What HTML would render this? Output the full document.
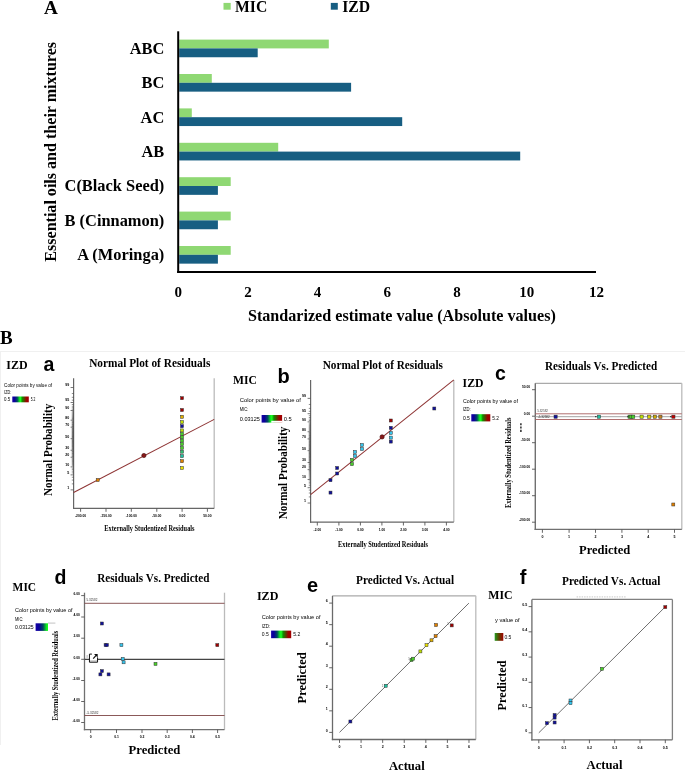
<!DOCTYPE html>
<html><head><meta charset="utf-8"><style>
html,body{margin:0;padding:0;background:#fff;}
body{width:685px;height:772px;overflow:hidden;font-family:"Liberation Serif",serif;}
svg{display:block;will-change:transform;}
</style></head><body>
<svg width="685" height="772" viewBox="0 0 685 772">
<text x="44.00" y="13.80" font-family="Liberation Serif" font-size="19.2" font-weight="bold" fill="#000" >A</text>
<rect x="223.50" y="2.90" width="7.20" height="6.80" fill="#8fd873" />
<text x="235.00" y="11.70" font-family="Liberation Serif" font-size="15.8" font-weight="bold" fill="#000" textLength="32.20" lengthAdjust="spacingAndGlyphs" >MIC</text>
<rect x="330.80" y="2.90" width="7.00" height="6.80" fill="#175e82" />
<text x="342.20" y="11.70" font-family="Liberation Serif" font-size="15.8" font-weight="bold" fill="#000" textLength="28.00" lengthAdjust="spacingAndGlyphs" >IZD</text>
<rect x="179.20" y="39.60" width="149.60" height="8.80" fill="#8fd873" />
<rect x="179.20" y="48.40" width="78.50" height="8.85" fill="#175e82" />
<text x="164.30" y="53.80" font-family="Liberation Serif" font-size="16.4" font-weight="bold" fill="#000" text-anchor="end" >ABC</text>
<rect x="179.20" y="74.00" width="32.60" height="8.80" fill="#8fd873" />
<rect x="179.20" y="82.80" width="171.90" height="8.85" fill="#175e82" />
<text x="164.30" y="88.20" font-family="Liberation Serif" font-size="16.4" font-weight="bold" fill="#000" text-anchor="end" >BC</text>
<rect x="179.20" y="108.40" width="12.60" height="8.80" fill="#8fd873" />
<rect x="179.20" y="117.20" width="223.00" height="8.85" fill="#175e82" />
<text x="164.30" y="122.60" font-family="Liberation Serif" font-size="16.4" font-weight="bold" fill="#000" text-anchor="end" >AC</text>
<rect x="179.20" y="142.80" width="99.00" height="8.80" fill="#8fd873" />
<rect x="179.20" y="151.60" width="341.00" height="8.85" fill="#175e82" />
<text x="164.30" y="157.00" font-family="Liberation Serif" font-size="16.4" font-weight="bold" fill="#000" text-anchor="end" >AB</text>
<rect x="179.20" y="177.20" width="51.50" height="8.80" fill="#8fd873" />
<rect x="179.20" y="186.00" width="38.70" height="8.85" fill="#175e82" />
<text x="164.30" y="191.40" font-family="Liberation Serif" font-size="16.4" font-weight="bold" fill="#000" text-anchor="end" >C(Black Seed)</text>
<rect x="179.20" y="211.60" width="51.50" height="8.80" fill="#8fd873" />
<rect x="179.20" y="220.40" width="38.70" height="8.85" fill="#175e82" />
<text x="164.30" y="225.80" font-family="Liberation Serif" font-size="16.4" font-weight="bold" fill="#000" text-anchor="end" >B (Cinnamon)</text>
<rect x="179.20" y="246.00" width="51.50" height="8.80" fill="#8fd873" />
<rect x="179.20" y="254.80" width="38.70" height="8.85" fill="#175e82" />
<text x="164.30" y="260.20" font-family="Liberation Serif" font-size="16.4" font-weight="bold" fill="#000" text-anchor="end" >A (Moringa)</text>
<line x1="178.20" y1="31.30" x2="178.20" y2="273.00" stroke="#000" stroke-width="2" />
<line x1="177.20" y1="272.00" x2="596.00" y2="272.00" stroke="#000" stroke-width="2" />
<text x="178.20" y="296.60" font-family="Liberation Serif" font-size="15" font-weight="bold" fill="#000" text-anchor="middle" >0</text>
<text x="247.90" y="296.60" font-family="Liberation Serif" font-size="15" font-weight="bold" fill="#000" text-anchor="middle" >2</text>
<text x="317.60" y="296.60" font-family="Liberation Serif" font-size="15" font-weight="bold" fill="#000" text-anchor="middle" >4</text>
<text x="387.30" y="296.60" font-family="Liberation Serif" font-size="15" font-weight="bold" fill="#000" text-anchor="middle" >6</text>
<text x="457.00" y="296.60" font-family="Liberation Serif" font-size="15" font-weight="bold" fill="#000" text-anchor="middle" >8</text>
<text x="526.70" y="296.60" font-family="Liberation Serif" font-size="15" font-weight="bold" fill="#000" text-anchor="middle" >10</text>
<text x="596.40" y="296.60" font-family="Liberation Serif" font-size="15" font-weight="bold" fill="#000" text-anchor="middle" >12</text>
<text x="248.00" y="321.20" font-family="Liberation Serif" font-size="16" font-weight="bold" fill="#000" textLength="307.80" lengthAdjust="spacingAndGlyphs" >Standarized  estimate value (Absolute values)</text>
<text x="56.20" y="261.70" font-family="Liberation Serif" font-size="16" font-weight="bold" fill="#000" textLength="219.80" lengthAdjust="spacingAndGlyphs" transform="rotate(-90 56.20 261.70)" >Essential oils and their mixtures</text>
<text x="0.00" y="343.60" font-family="Liberation Serif" font-size="19" font-weight="bold" fill="#000" >B</text>
<line x1="0.00" y1="351.50" x2="685.00" y2="351.50" stroke="#f0f0f0" stroke-width="1" />
<line x1="0.50" y1="351.50" x2="0.50" y2="745.00" stroke="#f0f0f0" stroke-width="1" />
<text x="6.30" y="368.90" font-family="Liberation Serif" font-size="12.5" font-weight="bold" fill="#000" textLength="21.30" lengthAdjust="spacingAndGlyphs" >IZD</text>
<text x="43.60" y="370.90" font-family="Liberation Sans" font-size="19.5" font-weight="bold" fill="#000" >a</text>
<text x="89.20" y="367.10" font-family="Liberation Serif" font-size="12" font-weight="bold" fill="#000" textLength="121.10" lengthAdjust="spacingAndGlyphs" >Normal Plot of Residuals</text>
<text x="4.10" y="386.60" font-family="Liberation Sans" font-size="4.6" font-weight="normal" fill="#000" textLength="48.00" lengthAdjust="spacingAndGlyphs" >Color points by value of</text>
<text x="4.10" y="393.90" font-family="Liberation Sans" font-size="4.6" font-weight="normal" fill="#000" textLength="7.10" lengthAdjust="spacingAndGlyphs" >IZD:</text>
<text x="4.10" y="401.20" font-family="Liberation Sans" font-size="4.6" font-weight="normal" fill="#000" textLength="6.10" lengthAdjust="spacingAndGlyphs" >0.5</text>
<defs><linearGradient id="g46" x1="0" x2="1" y1="0" y2="0"><stop offset="0" stop-color="#1400a8"/><stop offset="0.14" stop-color="#0a0098"/><stop offset="0.3" stop-color="#004a60"/><stop offset="0.44" stop-color="#10e820"/><stop offset="0.5" stop-color="#18ff20"/><stop offset="0.6" stop-color="#108c00"/><stop offset="0.74" stop-color="#5a4000"/><stop offset="0.86" stop-color="#a00000"/><stop offset="1" stop-color="#a00000"/></linearGradient></defs>
<rect x="12.30" y="396.50" width="16.50" height="5.80" fill="url(#g46)" />
<text x="30.70" y="401.20" font-family="Liberation Sans" font-size="4.6" font-weight="normal" fill="#000" textLength="4.60" lengthAdjust="spacingAndGlyphs" >5.2</text>
<line x1="214.20" y1="378.20" x2="214.20" y2="508.40" stroke="#bbb" stroke-width="1.3" />
<line x1="73.60" y1="378.20" x2="73.60" y2="509.00" stroke="#666" stroke-width="1.2" />
<line x1="73.00" y1="508.40" x2="214.20" y2="508.40" stroke="#666" stroke-width="1.2" />
<line x1="70.60" y1="489.88" x2="73.60" y2="489.88" stroke="#555" stroke-width="0.8" />
<text x="69.30" y="488.68" font-family="Liberation Sans" font-size="3.6" font-weight="bold" fill="#000" text-anchor="end" >1</text>
<line x1="71.80" y1="483.88" x2="73.60" y2="483.88" stroke="#444" stroke-width="0.6" />
<line x1="71.80" y1="480.08" x2="73.60" y2="480.08" stroke="#444" stroke-width="0.6" />
<line x1="71.80" y1="477.22" x2="73.60" y2="477.22" stroke="#444" stroke-width="0.6" />
<line x1="70.60" y1="474.89" x2="73.60" y2="474.89" stroke="#555" stroke-width="0.8" />
<text x="69.30" y="473.69" font-family="Liberation Sans" font-size="3.6" font-weight="bold" fill="#000" text-anchor="end" >5</text>
<line x1="71.80" y1="472.91" x2="73.60" y2="472.91" stroke="#444" stroke-width="0.6" />
<line x1="71.80" y1="471.17" x2="73.60" y2="471.17" stroke="#444" stroke-width="0.6" />
<line x1="71.80" y1="469.61" x2="73.60" y2="469.61" stroke="#444" stroke-width="0.6" />
<line x1="71.80" y1="468.20" x2="73.60" y2="468.20" stroke="#444" stroke-width="0.6" />
<line x1="70.60" y1="466.89" x2="73.60" y2="466.89" stroke="#555" stroke-width="0.8" />
<text x="69.30" y="465.69" font-family="Liberation Sans" font-size="3.6" font-weight="bold" fill="#000" text-anchor="end" >10</text>
<line x1="71.80" y1="465.68" x2="73.60" y2="465.68" stroke="#444" stroke-width="0.6" />
<line x1="71.80" y1="464.55" x2="73.60" y2="464.55" stroke="#444" stroke-width="0.6" />
<line x1="71.80" y1="463.48" x2="73.60" y2="463.48" stroke="#444" stroke-width="0.6" />
<line x1="71.80" y1="462.47" x2="73.60" y2="462.47" stroke="#444" stroke-width="0.6" />
<line x1="71.80" y1="461.50" x2="73.60" y2="461.50" stroke="#444" stroke-width="0.6" />
<line x1="71.80" y1="460.58" x2="73.60" y2="460.58" stroke="#444" stroke-width="0.6" />
<line x1="71.80" y1="459.69" x2="73.60" y2="459.69" stroke="#444" stroke-width="0.6" />
<line x1="71.80" y1="458.84" x2="73.60" y2="458.84" stroke="#444" stroke-width="0.6" />
<line x1="71.80" y1="458.01" x2="73.60" y2="458.01" stroke="#444" stroke-width="0.6" />
<line x1="70.60" y1="457.22" x2="73.60" y2="457.22" stroke="#555" stroke-width="0.8" />
<text x="69.30" y="456.02" font-family="Liberation Sans" font-size="3.6" font-weight="bold" fill="#000" text-anchor="end" >20</text>
<line x1="71.80" y1="456.44" x2="73.60" y2="456.44" stroke="#444" stroke-width="0.6" />
<line x1="71.80" y1="455.69" x2="73.60" y2="455.69" stroke="#444" stroke-width="0.6" />
<line x1="71.80" y1="454.95" x2="73.60" y2="454.95" stroke="#444" stroke-width="0.6" />
<line x1="71.80" y1="454.24" x2="73.60" y2="454.24" stroke="#444" stroke-width="0.6" />
<line x1="71.80" y1="453.54" x2="73.60" y2="453.54" stroke="#444" stroke-width="0.6" />
<line x1="71.80" y1="452.85" x2="73.60" y2="452.85" stroke="#444" stroke-width="0.6" />
<line x1="71.80" y1="452.18" x2="73.60" y2="452.18" stroke="#444" stroke-width="0.6" />
<line x1="71.80" y1="451.52" x2="73.60" y2="451.52" stroke="#444" stroke-width="0.6" />
<line x1="71.80" y1="450.87" x2="73.60" y2="450.87" stroke="#444" stroke-width="0.6" />
<line x1="70.60" y1="450.24" x2="73.60" y2="450.24" stroke="#555" stroke-width="0.8" />
<text x="69.30" y="449.04" font-family="Liberation Sans" font-size="3.6" font-weight="bold" fill="#000" text-anchor="end" >30</text>
<line x1="71.80" y1="449.61" x2="73.60" y2="449.61" stroke="#444" stroke-width="0.6" />
<line x1="71.80" y1="448.99" x2="73.60" y2="448.99" stroke="#444" stroke-width="0.6" />
<line x1="71.80" y1="448.38" x2="73.60" y2="448.38" stroke="#444" stroke-width="0.6" />
<line x1="71.80" y1="447.77" x2="73.60" y2="447.77" stroke="#444" stroke-width="0.6" />
<line x1="71.80" y1="447.18" x2="73.60" y2="447.18" stroke="#444" stroke-width="0.6" />
<line x1="71.80" y1="446.59" x2="73.60" y2="446.59" stroke="#444" stroke-width="0.6" />
<line x1="71.80" y1="446.00" x2="73.60" y2="446.00" stroke="#444" stroke-width="0.6" />
<line x1="71.80" y1="445.42" x2="73.60" y2="445.42" stroke="#444" stroke-width="0.6" />
<line x1="71.80" y1="444.85" x2="73.60" y2="444.85" stroke="#444" stroke-width="0.6" />
<line x1="71.80" y1="444.27" x2="73.60" y2="444.27" stroke="#444" stroke-width="0.6" />
<line x1="71.80" y1="443.71" x2="73.60" y2="443.71" stroke="#444" stroke-width="0.6" />
<line x1="71.80" y1="443.14" x2="73.60" y2="443.14" stroke="#444" stroke-width="0.6" />
<line x1="71.80" y1="442.58" x2="73.60" y2="442.58" stroke="#444" stroke-width="0.6" />
<line x1="71.80" y1="442.02" x2="73.60" y2="442.02" stroke="#444" stroke-width="0.6" />
<line x1="71.80" y1="441.46" x2="73.60" y2="441.46" stroke="#444" stroke-width="0.6" />
<line x1="71.80" y1="440.91" x2="73.60" y2="440.91" stroke="#444" stroke-width="0.6" />
<line x1="71.80" y1="440.36" x2="73.60" y2="440.36" stroke="#444" stroke-width="0.6" />
<line x1="71.80" y1="439.80" x2="73.60" y2="439.80" stroke="#444" stroke-width="0.6" />
<line x1="71.80" y1="439.25" x2="73.60" y2="439.25" stroke="#444" stroke-width="0.6" />
<line x1="70.60" y1="438.70" x2="73.60" y2="438.70" stroke="#555" stroke-width="0.8" />
<text x="69.30" y="437.50" font-family="Liberation Sans" font-size="3.6" font-weight="bold" fill="#000" text-anchor="end" >50</text>
<line x1="71.80" y1="438.15" x2="73.60" y2="438.15" stroke="#444" stroke-width="0.6" />
<line x1="71.80" y1="437.60" x2="73.60" y2="437.60" stroke="#444" stroke-width="0.6" />
<line x1="71.80" y1="437.04" x2="73.60" y2="437.04" stroke="#444" stroke-width="0.6" />
<line x1="71.80" y1="436.49" x2="73.60" y2="436.49" stroke="#444" stroke-width="0.6" />
<line x1="71.80" y1="435.94" x2="73.60" y2="435.94" stroke="#444" stroke-width="0.6" />
<line x1="71.80" y1="435.38" x2="73.60" y2="435.38" stroke="#444" stroke-width="0.6" />
<line x1="71.80" y1="434.82" x2="73.60" y2="434.82" stroke="#444" stroke-width="0.6" />
<line x1="71.80" y1="434.26" x2="73.60" y2="434.26" stroke="#444" stroke-width="0.6" />
<line x1="71.80" y1="433.69" x2="73.60" y2="433.69" stroke="#444" stroke-width="0.6" />
<line x1="71.80" y1="433.13" x2="73.60" y2="433.13" stroke="#444" stroke-width="0.6" />
<line x1="71.80" y1="432.55" x2="73.60" y2="432.55" stroke="#444" stroke-width="0.6" />
<line x1="71.80" y1="431.98" x2="73.60" y2="431.98" stroke="#444" stroke-width="0.6" />
<line x1="71.80" y1="431.40" x2="73.60" y2="431.40" stroke="#444" stroke-width="0.6" />
<line x1="71.80" y1="430.81" x2="73.60" y2="430.81" stroke="#444" stroke-width="0.6" />
<line x1="71.80" y1="430.22" x2="73.60" y2="430.22" stroke="#444" stroke-width="0.6" />
<line x1="71.80" y1="429.63" x2="73.60" y2="429.63" stroke="#444" stroke-width="0.6" />
<line x1="71.80" y1="429.02" x2="73.60" y2="429.02" stroke="#444" stroke-width="0.6" />
<line x1="71.80" y1="428.41" x2="73.60" y2="428.41" stroke="#444" stroke-width="0.6" />
<line x1="71.80" y1="427.79" x2="73.60" y2="427.79" stroke="#444" stroke-width="0.6" />
<line x1="70.60" y1="427.16" x2="73.60" y2="427.16" stroke="#555" stroke-width="0.8" />
<text x="69.30" y="425.96" font-family="Liberation Sans" font-size="3.6" font-weight="bold" fill="#000" text-anchor="end" >70</text>
<line x1="71.80" y1="426.53" x2="73.60" y2="426.53" stroke="#444" stroke-width="0.6" />
<line x1="71.80" y1="425.88" x2="73.60" y2="425.88" stroke="#444" stroke-width="0.6" />
<line x1="71.80" y1="425.22" x2="73.60" y2="425.22" stroke="#444" stroke-width="0.6" />
<line x1="71.80" y1="424.55" x2="73.60" y2="424.55" stroke="#444" stroke-width="0.6" />
<line x1="71.80" y1="423.86" x2="73.60" y2="423.86" stroke="#444" stroke-width="0.6" />
<line x1="71.80" y1="423.16" x2="73.60" y2="423.16" stroke="#444" stroke-width="0.6" />
<line x1="71.80" y1="422.45" x2="73.60" y2="422.45" stroke="#444" stroke-width="0.6" />
<line x1="71.80" y1="421.71" x2="73.60" y2="421.71" stroke="#444" stroke-width="0.6" />
<line x1="71.80" y1="420.96" x2="73.60" y2="420.96" stroke="#444" stroke-width="0.6" />
<line x1="70.60" y1="420.18" x2="73.60" y2="420.18" stroke="#555" stroke-width="0.8" />
<text x="69.30" y="418.98" font-family="Liberation Sans" font-size="3.6" font-weight="bold" fill="#000" text-anchor="end" >80</text>
<line x1="71.80" y1="419.39" x2="73.60" y2="419.39" stroke="#444" stroke-width="0.6" />
<line x1="71.80" y1="418.56" x2="73.60" y2="418.56" stroke="#444" stroke-width="0.6" />
<line x1="71.80" y1="417.71" x2="73.60" y2="417.71" stroke="#444" stroke-width="0.6" />
<line x1="71.80" y1="416.82" x2="73.60" y2="416.82" stroke="#444" stroke-width="0.6" />
<line x1="71.80" y1="415.90" x2="73.60" y2="415.90" stroke="#444" stroke-width="0.6" />
<line x1="71.80" y1="414.93" x2="73.60" y2="414.93" stroke="#444" stroke-width="0.6" />
<line x1="71.80" y1="413.92" x2="73.60" y2="413.92" stroke="#444" stroke-width="0.6" />
<line x1="71.80" y1="412.85" x2="73.60" y2="412.85" stroke="#444" stroke-width="0.6" />
<line x1="71.80" y1="411.72" x2="73.60" y2="411.72" stroke="#444" stroke-width="0.6" />
<line x1="70.60" y1="410.51" x2="73.60" y2="410.51" stroke="#555" stroke-width="0.8" />
<text x="69.30" y="409.31" font-family="Liberation Sans" font-size="3.6" font-weight="bold" fill="#000" text-anchor="end" >90</text>
<line x1="71.80" y1="409.20" x2="73.60" y2="409.20" stroke="#444" stroke-width="0.6" />
<line x1="71.80" y1="407.79" x2="73.60" y2="407.79" stroke="#444" stroke-width="0.6" />
<line x1="71.80" y1="406.23" x2="73.60" y2="406.23" stroke="#444" stroke-width="0.6" />
<line x1="71.80" y1="404.49" x2="73.60" y2="404.49" stroke="#444" stroke-width="0.6" />
<line x1="70.60" y1="402.51" x2="73.60" y2="402.51" stroke="#555" stroke-width="0.8" />
<text x="69.30" y="401.31" font-family="Liberation Sans" font-size="3.6" font-weight="bold" fill="#000" text-anchor="end" >95</text>
<line x1="71.80" y1="400.18" x2="73.60" y2="400.18" stroke="#444" stroke-width="0.6" />
<line x1="71.80" y1="397.32" x2="73.60" y2="397.32" stroke="#444" stroke-width="0.6" />
<line x1="71.80" y1="393.52" x2="73.60" y2="393.52" stroke="#444" stroke-width="0.6" />
<line x1="70.60" y1="387.52" x2="73.60" y2="387.52" stroke="#555" stroke-width="0.8" />
<text x="69.30" y="386.32" font-family="Liberation Sans" font-size="3.6" font-weight="bold" fill="#000" text-anchor="end" >99</text>
<line x1="80.60" y1="508.40" x2="80.60" y2="511.80" stroke="#555" stroke-width="0.9" />
<text x="80.60" y="516.89" font-family="Liberation Sans" font-size="3.3" font-weight="bold" fill="#000" text-anchor="middle" >-200.00</text>
<line x1="106.00" y1="508.40" x2="106.00" y2="511.80" stroke="#555" stroke-width="0.9" />
<text x="106.00" y="516.89" font-family="Liberation Sans" font-size="3.3" font-weight="bold" fill="#000" text-anchor="middle" >-150.00</text>
<line x1="131.30" y1="508.40" x2="131.30" y2="511.80" stroke="#555" stroke-width="0.9" />
<text x="131.30" y="516.89" font-family="Liberation Sans" font-size="3.3" font-weight="bold" fill="#000" text-anchor="middle" >-100.00</text>
<line x1="156.80" y1="508.40" x2="156.80" y2="511.80" stroke="#555" stroke-width="0.9" />
<text x="156.80" y="516.89" font-family="Liberation Sans" font-size="3.3" font-weight="bold" fill="#000" text-anchor="middle" >-50.00</text>
<line x1="182.10" y1="508.40" x2="182.10" y2="511.80" stroke="#555" stroke-width="0.9" />
<text x="182.10" y="516.89" font-family="Liberation Sans" font-size="3.3" font-weight="bold" fill="#000" text-anchor="middle" >0.00</text>
<line x1="207.40" y1="508.40" x2="207.40" y2="511.80" stroke="#555" stroke-width="0.9" />
<text x="207.40" y="516.89" font-family="Liberation Sans" font-size="3.3" font-weight="bold" fill="#000" text-anchor="middle" >50.00</text>
<text x="51.50" y="496.00" font-family="Liberation Serif" font-size="12.6" font-weight="bold" fill="#000" textLength="92.20" lengthAdjust="spacingAndGlyphs" transform="rotate(-90 51.50 496.00)" >Normal Probability</text>
<text x="104.30" y="531.10" font-family="Liberation Serif" font-size="7.3" font-weight="bold" fill="#000" textLength="90.30" lengthAdjust="spacingAndGlyphs" >Externally Studentized Residuals</text>
<line x1="73.60" y1="492.50" x2="214.20" y2="419.40" stroke="#8e3434" stroke-width="1.05" />
<circle cx="143.9" cy="455.5" r="2.1" fill="#8a1818" stroke="#4a0d0d" stroke-width="0.7"/>
<rect x="96.20" y="478.50" width="3.00" height="3.00" fill="#e08000" stroke="#333" stroke-width="0.5"/>
<rect x="180.50" y="396.70" width="3.00" height="3.00" fill="#a00000" stroke="#333" stroke-width="0.5"/>
<rect x="180.50" y="408.50" width="3.00" height="3.00" fill="#a00000" stroke="#333" stroke-width="0.5"/>
<rect x="180.50" y="415.30" width="3.00" height="3.00" fill="#e0b000" stroke="#333" stroke-width="0.5"/>
<rect x="180.50" y="420.60" width="3.00" height="3.00" fill="#c0e000" stroke="#333" stroke-width="0.5"/>
<rect x="180.50" y="424.70" width="3.00" height="3.00" fill="#10109a" stroke="#333" stroke-width="0.5"/>
<rect x="180.50" y="428.90" width="3.00" height="3.00" fill="#c0e000" stroke="#333" stroke-width="0.5"/>
<rect x="180.50" y="432.40" width="3.00" height="3.00" fill="#48d028" stroke="#333" stroke-width="0.5"/>
<rect x="180.50" y="435.80" width="3.00" height="3.00" fill="#48d028" stroke="#333" stroke-width="0.5"/>
<rect x="180.50" y="439.10" width="3.00" height="3.00" fill="#48d028" stroke="#333" stroke-width="0.5"/>
<rect x="180.50" y="442.70" width="3.00" height="3.00" fill="#48d028" stroke="#333" stroke-width="0.5"/>
<rect x="180.50" y="446.40" width="3.00" height="3.00" fill="#48d028" stroke="#333" stroke-width="0.5"/>
<rect x="180.50" y="450.20" width="3.00" height="3.00" fill="#30c070" stroke="#333" stroke-width="0.5"/>
<rect x="180.50" y="454.60" width="3.00" height="3.00" fill="#20c0a0" stroke="#333" stroke-width="0.5"/>
<rect x="180.50" y="459.70" width="3.00" height="3.00" fill="#e08000" stroke="#333" stroke-width="0.5"/>
<rect x="180.50" y="466.50" width="3.00" height="3.00" fill="#e8e000" stroke="#333" stroke-width="0.5"/>
<text x="233.00" y="384.40" font-family="Liberation Serif" font-size="12.5" font-weight="bold" fill="#000" textLength="23.90" lengthAdjust="spacingAndGlyphs" >MIC</text>
<text x="277.60" y="382.80" font-family="Liberation Sans" font-size="20" font-weight="bold" fill="#000" >b</text>
<text x="322.70" y="368.60" font-family="Liberation Serif" font-size="12" font-weight="bold" fill="#000" textLength="120.30" lengthAdjust="spacingAndGlyphs" >Normal Plot of Residuals</text>
<text x="239.80" y="402.20" font-family="Liberation Sans" font-size="5.6" font-weight="normal" fill="#000" textLength="61.10" lengthAdjust="spacingAndGlyphs" >Color points by value of</text>
<text x="239.80" y="411.40" font-family="Liberation Sans" font-size="5.6" font-weight="normal" fill="#000" textLength="8.50" lengthAdjust="spacingAndGlyphs" >MIC:</text>
<text x="239.80" y="420.90" font-family="Liberation Sans" font-size="5.6" font-weight="normal" fill="#000" textLength="20.10" lengthAdjust="spacingAndGlyphs" >0.03125</text>
<defs><linearGradient id="g200" x1="0" x2="1" y1="0" y2="0"><stop offset="0" stop-color="#1400a8"/><stop offset="0.14" stop-color="#0a0098"/><stop offset="0.3" stop-color="#004a60"/><stop offset="0.44" stop-color="#10e820"/><stop offset="0.5" stop-color="#18ff20"/><stop offset="0.6" stop-color="#108c00"/><stop offset="0.74" stop-color="#5a4000"/><stop offset="0.86" stop-color="#a00000"/><stop offset="1" stop-color="#a00000"/></linearGradient></defs>
<rect x="261.60" y="415.00" width="20.50" height="7.60" fill="url(#g200)" />
<rect x="271.30" y="420.80" width="11.00" height="1.90" fill="#fff" />
<text x="283.80" y="420.90" font-family="Liberation Sans" font-size="5.6" font-weight="normal" fill="#000" textLength="8.00" lengthAdjust="spacingAndGlyphs" >0.5</text>
<line x1="453.80" y1="379.90" x2="453.80" y2="522.10" stroke="#bbb" stroke-width="1.3" />
<line x1="310.60" y1="379.90" x2="310.60" y2="522.70" stroke="#666" stroke-width="1.2" />
<line x1="310.00" y1="522.10" x2="453.80" y2="522.10" stroke="#666" stroke-width="1.2" />
<line x1="307.60" y1="503.04" x2="310.60" y2="503.04" stroke="#555" stroke-width="0.8" />
<text x="306.00" y="501.84" font-family="Liberation Sans" font-size="3.6" font-weight="bold" fill="#000" text-anchor="end" >1</text>
<line x1="308.80" y1="496.91" x2="310.60" y2="496.91" stroke="#444" stroke-width="0.6" />
<line x1="308.80" y1="493.02" x2="310.60" y2="493.02" stroke="#444" stroke-width="0.6" />
<line x1="308.80" y1="490.09" x2="310.60" y2="490.09" stroke="#444" stroke-width="0.6" />
<line x1="307.60" y1="487.71" x2="310.60" y2="487.71" stroke="#555" stroke-width="0.8" />
<text x="306.00" y="486.51" font-family="Liberation Sans" font-size="3.6" font-weight="bold" fill="#000" text-anchor="end" >5</text>
<line x1="308.80" y1="485.68" x2="310.60" y2="485.68" stroke="#444" stroke-width="0.6" />
<line x1="308.80" y1="483.91" x2="310.60" y2="483.91" stroke="#444" stroke-width="0.6" />
<line x1="308.80" y1="482.31" x2="310.60" y2="482.31" stroke="#444" stroke-width="0.6" />
<line x1="308.80" y1="480.87" x2="310.60" y2="480.87" stroke="#444" stroke-width="0.6" />
<line x1="307.60" y1="479.53" x2="310.60" y2="479.53" stroke="#555" stroke-width="0.8" />
<text x="306.00" y="478.33" font-family="Liberation Sans" font-size="3.6" font-weight="bold" fill="#000" text-anchor="end" >10</text>
<line x1="308.80" y1="478.30" x2="310.60" y2="478.30" stroke="#444" stroke-width="0.6" />
<line x1="308.80" y1="477.14" x2="310.60" y2="477.14" stroke="#444" stroke-width="0.6" />
<line x1="308.80" y1="476.04" x2="310.60" y2="476.04" stroke="#444" stroke-width="0.6" />
<line x1="308.80" y1="475.01" x2="310.60" y2="475.01" stroke="#444" stroke-width="0.6" />
<line x1="308.80" y1="474.02" x2="310.60" y2="474.02" stroke="#444" stroke-width="0.6" />
<line x1="308.80" y1="473.08" x2="310.60" y2="473.08" stroke="#444" stroke-width="0.6" />
<line x1="308.80" y1="472.17" x2="310.60" y2="472.17" stroke="#444" stroke-width="0.6" />
<line x1="308.80" y1="471.30" x2="310.60" y2="471.30" stroke="#444" stroke-width="0.6" />
<line x1="308.80" y1="470.45" x2="310.60" y2="470.45" stroke="#444" stroke-width="0.6" />
<line x1="307.60" y1="469.64" x2="310.60" y2="469.64" stroke="#555" stroke-width="0.8" />
<text x="306.00" y="468.44" font-family="Liberation Sans" font-size="3.6" font-weight="bold" fill="#000" text-anchor="end" >20</text>
<line x1="308.80" y1="468.84" x2="310.60" y2="468.84" stroke="#444" stroke-width="0.6" />
<line x1="308.80" y1="468.07" x2="310.60" y2="468.07" stroke="#444" stroke-width="0.6" />
<line x1="308.80" y1="467.32" x2="310.60" y2="467.32" stroke="#444" stroke-width="0.6" />
<line x1="308.80" y1="466.59" x2="310.60" y2="466.59" stroke="#444" stroke-width="0.6" />
<line x1="308.80" y1="465.88" x2="310.60" y2="465.88" stroke="#444" stroke-width="0.6" />
<line x1="308.80" y1="465.18" x2="310.60" y2="465.18" stroke="#444" stroke-width="0.6" />
<line x1="308.80" y1="464.49" x2="310.60" y2="464.49" stroke="#444" stroke-width="0.6" />
<line x1="308.80" y1="463.81" x2="310.60" y2="463.81" stroke="#444" stroke-width="0.6" />
<line x1="308.80" y1="463.15" x2="310.60" y2="463.15" stroke="#444" stroke-width="0.6" />
<line x1="307.60" y1="462.50" x2="310.60" y2="462.50" stroke="#555" stroke-width="0.8" />
<text x="306.00" y="461.30" font-family="Liberation Sans" font-size="3.6" font-weight="bold" fill="#000" text-anchor="end" >30</text>
<line x1="308.80" y1="461.86" x2="310.60" y2="461.86" stroke="#444" stroke-width="0.6" />
<line x1="308.80" y1="461.22" x2="310.60" y2="461.22" stroke="#444" stroke-width="0.6" />
<line x1="308.80" y1="460.60" x2="310.60" y2="460.60" stroke="#444" stroke-width="0.6" />
<line x1="308.80" y1="459.98" x2="310.60" y2="459.98" stroke="#444" stroke-width="0.6" />
<line x1="308.80" y1="459.37" x2="310.60" y2="459.37" stroke="#444" stroke-width="0.6" />
<line x1="308.80" y1="458.77" x2="310.60" y2="458.77" stroke="#444" stroke-width="0.6" />
<line x1="308.80" y1="458.17" x2="310.60" y2="458.17" stroke="#444" stroke-width="0.6" />
<line x1="308.80" y1="457.57" x2="310.60" y2="457.57" stroke="#444" stroke-width="0.6" />
<line x1="308.80" y1="456.98" x2="310.60" y2="456.98" stroke="#444" stroke-width="0.6" />
<line x1="308.80" y1="456.40" x2="310.60" y2="456.40" stroke="#444" stroke-width="0.6" />
<line x1="308.80" y1="455.82" x2="310.60" y2="455.82" stroke="#444" stroke-width="0.6" />
<line x1="308.80" y1="455.24" x2="310.60" y2="455.24" stroke="#444" stroke-width="0.6" />
<line x1="308.80" y1="454.67" x2="310.60" y2="454.67" stroke="#444" stroke-width="0.6" />
<line x1="308.80" y1="454.10" x2="310.60" y2="454.10" stroke="#444" stroke-width="0.6" />
<line x1="308.80" y1="453.53" x2="310.60" y2="453.53" stroke="#444" stroke-width="0.6" />
<line x1="308.80" y1="452.96" x2="310.60" y2="452.96" stroke="#444" stroke-width="0.6" />
<line x1="308.80" y1="452.39" x2="310.60" y2="452.39" stroke="#444" stroke-width="0.6" />
<line x1="308.80" y1="451.83" x2="310.60" y2="451.83" stroke="#444" stroke-width="0.6" />
<line x1="308.80" y1="451.26" x2="310.60" y2="451.26" stroke="#444" stroke-width="0.6" />
<line x1="307.60" y1="450.70" x2="310.60" y2="450.70" stroke="#555" stroke-width="0.8" />
<text x="306.00" y="449.50" font-family="Liberation Sans" font-size="3.6" font-weight="bold" fill="#000" text-anchor="end" >50</text>
<line x1="308.80" y1="450.14" x2="310.60" y2="450.14" stroke="#444" stroke-width="0.6" />
<line x1="308.80" y1="449.57" x2="310.60" y2="449.57" stroke="#444" stroke-width="0.6" />
<line x1="308.80" y1="449.01" x2="310.60" y2="449.01" stroke="#444" stroke-width="0.6" />
<line x1="308.80" y1="448.44" x2="310.60" y2="448.44" stroke="#444" stroke-width="0.6" />
<line x1="308.80" y1="447.87" x2="310.60" y2="447.87" stroke="#444" stroke-width="0.6" />
<line x1="308.80" y1="447.30" x2="310.60" y2="447.30" stroke="#444" stroke-width="0.6" />
<line x1="308.80" y1="446.73" x2="310.60" y2="446.73" stroke="#444" stroke-width="0.6" />
<line x1="308.80" y1="446.16" x2="310.60" y2="446.16" stroke="#444" stroke-width="0.6" />
<line x1="308.80" y1="445.58" x2="310.60" y2="445.58" stroke="#444" stroke-width="0.6" />
<line x1="308.80" y1="445.00" x2="310.60" y2="445.00" stroke="#444" stroke-width="0.6" />
<line x1="308.80" y1="444.42" x2="310.60" y2="444.42" stroke="#444" stroke-width="0.6" />
<line x1="308.80" y1="443.83" x2="310.60" y2="443.83" stroke="#444" stroke-width="0.6" />
<line x1="308.80" y1="443.23" x2="310.60" y2="443.23" stroke="#444" stroke-width="0.6" />
<line x1="308.80" y1="442.63" x2="310.60" y2="442.63" stroke="#444" stroke-width="0.6" />
<line x1="308.80" y1="442.03" x2="310.60" y2="442.03" stroke="#444" stroke-width="0.6" />
<line x1="308.80" y1="441.42" x2="310.60" y2="441.42" stroke="#444" stroke-width="0.6" />
<line x1="308.80" y1="440.80" x2="310.60" y2="440.80" stroke="#444" stroke-width="0.6" />
<line x1="308.80" y1="440.18" x2="310.60" y2="440.18" stroke="#444" stroke-width="0.6" />
<line x1="308.80" y1="439.54" x2="310.60" y2="439.54" stroke="#444" stroke-width="0.6" />
<line x1="307.60" y1="438.90" x2="310.60" y2="438.90" stroke="#555" stroke-width="0.8" />
<text x="306.00" y="437.70" font-family="Liberation Sans" font-size="3.6" font-weight="bold" fill="#000" text-anchor="end" >70</text>
<line x1="308.80" y1="438.25" x2="310.60" y2="438.25" stroke="#444" stroke-width="0.6" />
<line x1="308.80" y1="437.59" x2="310.60" y2="437.59" stroke="#444" stroke-width="0.6" />
<line x1="308.80" y1="436.91" x2="310.60" y2="436.91" stroke="#444" stroke-width="0.6" />
<line x1="308.80" y1="436.22" x2="310.60" y2="436.22" stroke="#444" stroke-width="0.6" />
<line x1="308.80" y1="435.52" x2="310.60" y2="435.52" stroke="#444" stroke-width="0.6" />
<line x1="308.80" y1="434.81" x2="310.60" y2="434.81" stroke="#444" stroke-width="0.6" />
<line x1="308.80" y1="434.08" x2="310.60" y2="434.08" stroke="#444" stroke-width="0.6" />
<line x1="308.80" y1="433.33" x2="310.60" y2="433.33" stroke="#444" stroke-width="0.6" />
<line x1="308.80" y1="432.56" x2="310.60" y2="432.56" stroke="#444" stroke-width="0.6" />
<line x1="307.60" y1="431.76" x2="310.60" y2="431.76" stroke="#555" stroke-width="0.8" />
<text x="306.00" y="430.56" font-family="Liberation Sans" font-size="3.6" font-weight="bold" fill="#000" text-anchor="end" >80</text>
<line x1="308.80" y1="430.95" x2="310.60" y2="430.95" stroke="#444" stroke-width="0.6" />
<line x1="308.80" y1="430.10" x2="310.60" y2="430.10" stroke="#444" stroke-width="0.6" />
<line x1="308.80" y1="429.23" x2="310.60" y2="429.23" stroke="#444" stroke-width="0.6" />
<line x1="308.80" y1="428.32" x2="310.60" y2="428.32" stroke="#444" stroke-width="0.6" />
<line x1="308.80" y1="427.38" x2="310.60" y2="427.38" stroke="#444" stroke-width="0.6" />
<line x1="308.80" y1="426.39" x2="310.60" y2="426.39" stroke="#444" stroke-width="0.6" />
<line x1="308.80" y1="425.36" x2="310.60" y2="425.36" stroke="#444" stroke-width="0.6" />
<line x1="308.80" y1="424.26" x2="310.60" y2="424.26" stroke="#444" stroke-width="0.6" />
<line x1="308.80" y1="423.10" x2="310.60" y2="423.10" stroke="#444" stroke-width="0.6" />
<line x1="307.60" y1="421.87" x2="310.60" y2="421.87" stroke="#555" stroke-width="0.8" />
<text x="306.00" y="420.67" font-family="Liberation Sans" font-size="3.6" font-weight="bold" fill="#000" text-anchor="end" >90</text>
<line x1="308.80" y1="420.53" x2="310.60" y2="420.53" stroke="#444" stroke-width="0.6" />
<line x1="308.80" y1="419.09" x2="310.60" y2="419.09" stroke="#444" stroke-width="0.6" />
<line x1="308.80" y1="417.49" x2="310.60" y2="417.49" stroke="#444" stroke-width="0.6" />
<line x1="308.80" y1="415.72" x2="310.60" y2="415.72" stroke="#444" stroke-width="0.6" />
<line x1="307.60" y1="413.69" x2="310.60" y2="413.69" stroke="#555" stroke-width="0.8" />
<text x="306.00" y="412.49" font-family="Liberation Sans" font-size="3.6" font-weight="bold" fill="#000" text-anchor="end" >95</text>
<line x1="308.80" y1="411.31" x2="310.60" y2="411.31" stroke="#444" stroke-width="0.6" />
<line x1="308.80" y1="408.38" x2="310.60" y2="408.38" stroke="#444" stroke-width="0.6" />
<line x1="308.80" y1="404.49" x2="310.60" y2="404.49" stroke="#444" stroke-width="0.6" />
<line x1="307.60" y1="398.36" x2="310.60" y2="398.36" stroke="#555" stroke-width="0.8" />
<text x="306.00" y="397.16" font-family="Liberation Sans" font-size="3.6" font-weight="bold" fill="#000" text-anchor="end" >99</text>
<line x1="317.30" y1="522.10" x2="317.30" y2="525.50" stroke="#555" stroke-width="0.9" />
<text x="317.30" y="530.79" font-family="Liberation Sans" font-size="3.3" font-weight="bold" fill="#000" text-anchor="middle" >-2.00</text>
<line x1="338.90" y1="522.10" x2="338.90" y2="525.50" stroke="#555" stroke-width="0.9" />
<text x="338.90" y="530.79" font-family="Liberation Sans" font-size="3.3" font-weight="bold" fill="#000" text-anchor="middle" >-1.00</text>
<line x1="360.40" y1="522.10" x2="360.40" y2="525.50" stroke="#555" stroke-width="0.9" />
<text x="360.40" y="530.79" font-family="Liberation Sans" font-size="3.3" font-weight="bold" fill="#000" text-anchor="middle" >0.00</text>
<line x1="381.90" y1="522.10" x2="381.90" y2="525.50" stroke="#555" stroke-width="0.9" />
<text x="381.90" y="530.79" font-family="Liberation Sans" font-size="3.3" font-weight="bold" fill="#000" text-anchor="middle" >1.00</text>
<line x1="403.40" y1="522.10" x2="403.40" y2="525.50" stroke="#555" stroke-width="0.9" />
<text x="403.40" y="530.79" font-family="Liberation Sans" font-size="3.3" font-weight="bold" fill="#000" text-anchor="middle" >2.00</text>
<line x1="424.90" y1="522.10" x2="424.90" y2="525.50" stroke="#555" stroke-width="0.9" />
<text x="424.90" y="530.79" font-family="Liberation Sans" font-size="3.3" font-weight="bold" fill="#000" text-anchor="middle" >3.00</text>
<line x1="446.40" y1="522.10" x2="446.40" y2="525.50" stroke="#555" stroke-width="0.9" />
<text x="446.40" y="530.79" font-family="Liberation Sans" font-size="3.3" font-weight="bold" fill="#000" text-anchor="middle" >4.00</text>
<text x="287.10" y="519.20" font-family="Liberation Serif" font-size="13" font-weight="bold" fill="#000" textLength="92.60" lengthAdjust="spacingAndGlyphs" transform="rotate(-90 287.10 519.20)" >Normal Probability</text>
<text x="338.10" y="546.90" font-family="Liberation Serif" font-size="7.2" font-weight="bold" fill="#000" textLength="89.80" lengthAdjust="spacingAndGlyphs" >Externally Studentized Residuals</text>
<line x1="310.60" y1="494.60" x2="453.80" y2="379.90" stroke="#8e3434" stroke-width="1.05" />
<circle cx="382.1" cy="436.9" r="2.1" fill="#8a1818" stroke="#4a0d0d" stroke-width="0.7"/>
<rect x="432.80" y="407.00" width="3.00" height="3.00" fill="#10109a" stroke="#333" stroke-width="0.5"/>
<rect x="389.30" y="419.00" width="3.00" height="3.00" fill="#a00000" stroke="#333" stroke-width="0.5"/>
<rect x="389.30" y="426.30" width="3.00" height="3.00" fill="#10109a" stroke="#333" stroke-width="0.5"/>
<rect x="389.30" y="431.40" width="3.00" height="3.00" fill="#35c5ee" stroke="#333" stroke-width="0.5"/>
<rect x="389.30" y="436.10" width="3.00" height="3.00" fill="#35c5ee" stroke="#333" stroke-width="0.5"/>
<rect x="389.30" y="440.10" width="3.00" height="3.00" fill="#10109a" stroke="#333" stroke-width="0.5"/>
<rect x="360.50" y="443.50" width="3.00" height="3.00" fill="#35c5ee" stroke="#333" stroke-width="0.5"/>
<rect x="360.50" y="447.50" width="3.00" height="3.00" fill="#35c5ee" stroke="#333" stroke-width="0.5"/>
<rect x="353.50" y="450.50" width="3.00" height="3.00" fill="#35c5ee" stroke="#333" stroke-width="0.5"/>
<rect x="353.50" y="454.50" width="3.00" height="3.00" fill="#35c5ee" stroke="#333" stroke-width="0.5"/>
<rect x="350.50" y="458.40" width="3.00" height="3.00" fill="#48d028" stroke="#333" stroke-width="0.5"/>
<rect x="350.50" y="462.60" width="3.00" height="3.00" fill="#48d028" stroke="#333" stroke-width="0.5"/>
<rect x="335.70" y="466.50" width="3.00" height="3.00" fill="#10109a" stroke="#333" stroke-width="0.5"/>
<rect x="335.70" y="472.00" width="3.00" height="3.00" fill="#10109a" stroke="#333" stroke-width="0.5"/>
<rect x="329.00" y="478.70" width="3.00" height="3.00" fill="#10109a" stroke="#333" stroke-width="0.5"/>
<rect x="329.00" y="491.10" width="3.00" height="3.00" fill="#10109a" stroke="#333" stroke-width="0.5"/>
<text x="462.60" y="386.60" font-family="Liberation Serif" font-size="12.5" font-weight="bold" fill="#000" textLength="20.90" lengthAdjust="spacingAndGlyphs" >IZD</text>
<text x="494.90" y="379.90" font-family="Liberation Sans" font-size="19.5" font-weight="bold" fill="#000" >c</text>
<text x="545.00" y="370.20" font-family="Liberation Serif" font-size="12" font-weight="bold" fill="#000" textLength="112.20" lengthAdjust="spacingAndGlyphs" >Residuals Vs. Predicted</text>
<text x="462.90" y="403.00" font-family="Liberation Sans" font-size="5.2" font-weight="normal" fill="#000" textLength="55.10" lengthAdjust="spacingAndGlyphs" >Color points by value of</text>
<text x="462.90" y="411.40" font-family="Liberation Sans" font-size="5.2" font-weight="normal" fill="#000" textLength="7.90" lengthAdjust="spacingAndGlyphs" >IZD:</text>
<text x="462.90" y="419.80" font-family="Liberation Sans" font-size="5.2" font-weight="normal" fill="#000" textLength="7.00" lengthAdjust="spacingAndGlyphs" >0.5</text>
<defs><linearGradient id="g357" x1="0" x2="1" y1="0" y2="0"><stop offset="0" stop-color="#1400a8"/><stop offset="0.14" stop-color="#0a0098"/><stop offset="0.3" stop-color="#004a60"/><stop offset="0.44" stop-color="#10e820"/><stop offset="0.5" stop-color="#18ff20"/><stop offset="0.6" stop-color="#108c00"/><stop offset="0.74" stop-color="#5a4000"/><stop offset="0.86" stop-color="#a00000"/><stop offset="1" stop-color="#a00000"/></linearGradient></defs>
<rect x="471.30" y="414.20" width="19.00" height="7.20" fill="url(#g357)" />
<text x="492.30" y="419.80" font-family="Liberation Sans" font-size="5.2" font-weight="normal" fill="#000" textLength="6.70" lengthAdjust="spacingAndGlyphs" >5.2</text>
<line x1="535.30" y1="383.30" x2="681.80" y2="383.30" stroke="#aaa" stroke-width="1.2" />
<line x1="681.80" y1="383.30" x2="681.80" y2="529.40" stroke="#bbb" stroke-width="1.3" />
<line x1="535.30" y1="383.30" x2="535.30" y2="530.10" stroke="#707070" stroke-width="1.4" />
<line x1="534.60" y1="529.40" x2="681.80" y2="529.40" stroke="#707070" stroke-width="1.4" />
<line x1="532.00" y1="389.70" x2="535.30" y2="389.70" stroke="#555" stroke-width="0.9" />
<text x="530.20" y="388.29" font-family="Liberation Sans" font-size="3.3" font-weight="bold" fill="#000" text-anchor="end" >50.00</text>
<line x1="532.00" y1="416.20" x2="535.30" y2="416.20" stroke="#555" stroke-width="0.9" />
<text x="530.20" y="414.79" font-family="Liberation Sans" font-size="3.3" font-weight="bold" fill="#000" text-anchor="end" >0.00</text>
<line x1="532.00" y1="442.70" x2="535.30" y2="442.70" stroke="#555" stroke-width="0.9" />
<text x="530.20" y="441.29" font-family="Liberation Sans" font-size="3.3" font-weight="bold" fill="#000" text-anchor="end" >-50.00</text>
<line x1="532.00" y1="469.20" x2="535.30" y2="469.20" stroke="#555" stroke-width="0.9" />
<text x="530.20" y="467.79" font-family="Liberation Sans" font-size="3.3" font-weight="bold" fill="#000" text-anchor="end" >-100.00</text>
<line x1="532.00" y1="495.70" x2="535.30" y2="495.70" stroke="#555" stroke-width="0.9" />
<text x="530.20" y="494.29" font-family="Liberation Sans" font-size="3.3" font-weight="bold" fill="#000" text-anchor="end" >-150.00</text>
<line x1="532.00" y1="522.20" x2="535.30" y2="522.20" stroke="#555" stroke-width="0.9" />
<text x="530.20" y="520.79" font-family="Liberation Sans" font-size="3.3" font-weight="bold" fill="#000" text-anchor="end" >-200.00</text>
<line x1="542.40" y1="529.40" x2="542.40" y2="532.80" stroke="#555" stroke-width="0.9" />
<text x="542.40" y="538.20" font-family="Liberation Sans" font-size="3.6" font-weight="bold" fill="#000" text-anchor="middle" >0</text>
<line x1="569.10" y1="529.40" x2="569.10" y2="532.80" stroke="#555" stroke-width="0.9" />
<text x="569.10" y="538.20" font-family="Liberation Sans" font-size="3.6" font-weight="bold" fill="#000" text-anchor="middle" >1</text>
<line x1="595.50" y1="529.40" x2="595.50" y2="532.80" stroke="#555" stroke-width="0.9" />
<text x="595.50" y="538.20" font-family="Liberation Sans" font-size="3.6" font-weight="bold" fill="#000" text-anchor="middle" >2</text>
<line x1="621.90" y1="529.40" x2="621.90" y2="532.80" stroke="#555" stroke-width="0.9" />
<text x="621.90" y="538.20" font-family="Liberation Sans" font-size="3.6" font-weight="bold" fill="#000" text-anchor="middle" >3</text>
<line x1="648.20" y1="529.40" x2="648.20" y2="532.80" stroke="#555" stroke-width="0.9" />
<text x="648.20" y="538.20" font-family="Liberation Sans" font-size="3.6" font-weight="bold" fill="#000" text-anchor="middle" >4</text>
<line x1="674.50" y1="529.40" x2="674.50" y2="532.80" stroke="#555" stroke-width="0.9" />
<text x="674.50" y="538.20" font-family="Liberation Sans" font-size="3.6" font-weight="bold" fill="#000" text-anchor="middle" >5</text>
<line x1="535.30" y1="413.80" x2="681.80" y2="413.80" stroke="#a86060" stroke-width="0.9" />
<line x1="535.30" y1="419.50" x2="681.80" y2="419.50" stroke="#a86060" stroke-width="0.9" />
<line x1="535.30" y1="416.70" x2="681.80" y2="416.70" stroke="#999" stroke-width="0.9" />
<text x="537.20" y="412.20" font-family="Liberation Sans" font-size="3.0" font-weight="normal" fill="#444" >5.32582</text>
<text x="537.80" y="418.00" font-family="Liberation Sans" font-size="3.0" font-weight="normal" fill="#222" >-5.32582</text>
<text x="510.60" y="508.00" font-family="Liberation Serif" font-size="7.3" font-weight="bold" fill="#000" textLength="90.50" lengthAdjust="spacingAndGlyphs" transform="rotate(-90 510.60 508.00)" >Externally Studentized Residuals</text>
<text x="579.00" y="554.30" font-family="Liberation Serif" font-size="13.3" font-weight="bold" fill="#000" textLength="51.30" lengthAdjust="spacingAndGlyphs" >Predicted</text>
<rect x="554.00" y="415.10" width="3.20" height="3.20" fill="#10109a" stroke="#333" stroke-width="0.5"/>
<rect x="597.40" y="415.10" width="3.20" height="3.20" fill="#20c0a0" stroke="#333" stroke-width="0.5"/>
<rect x="628.00" y="415.10" width="3.20" height="3.20" fill="#48d028" stroke="#333" stroke-width="0.5"/>
<rect x="629.80" y="415.10" width="3.20" height="3.20" fill="#48d028" stroke="#333" stroke-width="0.5"/>
<rect x="631.60" y="415.10" width="3.20" height="3.20" fill="#48d028" stroke="#333" stroke-width="0.5"/>
<rect x="640.00" y="415.10" width="3.20" height="3.20" fill="#c0e000" stroke="#333" stroke-width="0.5"/>
<rect x="647.70" y="415.10" width="3.20" height="3.20" fill="#d8d000" stroke="#333" stroke-width="0.5"/>
<rect x="653.20" y="415.10" width="3.20" height="3.20" fill="#d0a800" stroke="#333" stroke-width="0.5"/>
<rect x="658.80" y="415.10" width="3.20" height="3.20" fill="#c08020" stroke="#333" stroke-width="0.5"/>
<rect x="671.80" y="415.10" width="3.20" height="3.20" fill="#c00000" stroke="#333" stroke-width="0.5"/>
<rect x="671.80" y="503.00" width="3.00" height="3.00" fill="#e08000" stroke="#333" stroke-width="0.5"/>
<line x1="595.20" y1="416.70" x2="596.40" y2="416.70" stroke="#222" stroke-width="1.2" />
<line x1="627.40" y1="416.70" x2="628.60" y2="416.70" stroke="#222" stroke-width="1.2" />
<line x1="670.20" y1="416.70" x2="671.40" y2="416.70" stroke="#222" stroke-width="1.2" />
<line x1="520.90" y1="423.20" x2="520.90" y2="425.30" stroke="#1a1a1a" stroke-width="1.4" />
<line x1="520.90" y1="426.50" x2="520.90" y2="428.60" stroke="#1a1a1a" stroke-width="1.4" />
<line x1="520.90" y1="429.80" x2="520.90" y2="431.90" stroke="#1a1a1a" stroke-width="1.4" />
<text x="12.60" y="591.10" font-family="Liberation Serif" font-size="12.5" font-weight="bold" fill="#000" textLength="23.50" lengthAdjust="spacingAndGlyphs" >MIC</text>
<text x="54.60" y="583.50" font-family="Liberation Sans" font-size="19.5" font-weight="bold" fill="#000" >d</text>
<text x="97.20" y="581.70" font-family="Liberation Serif" font-size="12" font-weight="bold" fill="#000" textLength="112.30" lengthAdjust="spacingAndGlyphs" >Residuals Vs. Predicted</text>
<text x="15.10" y="611.80" font-family="Liberation Sans" font-size="5.4" font-weight="normal" fill="#000" textLength="57.40" lengthAdjust="spacingAndGlyphs" >Color points by value of</text>
<text x="15.10" y="620.60" font-family="Liberation Sans" font-size="5.4" font-weight="normal" fill="#000" textLength="8.30" lengthAdjust="spacingAndGlyphs" >MIC:</text>
<text x="15.10" y="629.40" font-family="Liberation Sans" font-size="5.4" font-weight="normal" fill="#000" textLength="18.50" lengthAdjust="spacingAndGlyphs" >0.03125</text>
<defs><linearGradient id="g418" x1="0" x2="1" y1="0" y2="0"><stop offset="0" stop-color="#1400a8"/><stop offset="0.28" stop-color="#0a0098"/><stop offset="0.6" stop-color="#004a60"/><stop offset="0.88" stop-color="#10e820"/><stop offset="1" stop-color="#18ff20"/></linearGradient></defs>
<rect x="35.60" y="623.30" width="12.40" height="7.60" fill="url(#g418)" />
<line x1="48.00" y1="623.10" x2="55.40" y2="623.10" stroke="#999" stroke-width="0.6" />
<line x1="224.50" y1="592.70" x2="224.50" y2="729.60" stroke="#bbb" stroke-width="1.3" />
<line x1="84.50" y1="592.70" x2="84.50" y2="730.25" stroke="#707070" stroke-width="1.3" />
<line x1="83.85" y1="729.60" x2="224.50" y2="729.60" stroke="#707070" stroke-width="1.3" />
<line x1="81.20" y1="595.60" x2="84.50" y2="595.60" stroke="#555" stroke-width="0.9" />
<text x="79.90" y="594.89" font-family="Liberation Sans" font-size="3.3" font-weight="bold" fill="#000" text-anchor="end" >6.00</text>
<line x1="81.20" y1="617.00" x2="84.50" y2="617.00" stroke="#555" stroke-width="0.9" />
<text x="79.90" y="616.29" font-family="Liberation Sans" font-size="3.3" font-weight="bold" fill="#000" text-anchor="end" >4.00</text>
<line x1="81.20" y1="638.20" x2="84.50" y2="638.20" stroke="#555" stroke-width="0.9" />
<text x="79.90" y="637.49" font-family="Liberation Sans" font-size="3.3" font-weight="bold" fill="#000" text-anchor="end" >2.00</text>
<line x1="81.20" y1="659.30" x2="84.50" y2="659.30" stroke="#555" stroke-width="0.9" />
<line x1="81.20" y1="680.50" x2="84.50" y2="680.50" stroke="#555" stroke-width="0.9" />
<text x="79.90" y="679.79" font-family="Liberation Sans" font-size="3.3" font-weight="bold" fill="#000" text-anchor="end" >-2.00</text>
<line x1="81.20" y1="701.50" x2="84.50" y2="701.50" stroke="#555" stroke-width="0.9" />
<text x="79.90" y="700.79" font-family="Liberation Sans" font-size="3.3" font-weight="bold" fill="#000" text-anchor="end" >-4.00</text>
<line x1="81.20" y1="722.50" x2="84.50" y2="722.50" stroke="#555" stroke-width="0.9" />
<text x="79.90" y="721.79" font-family="Liberation Sans" font-size="3.3" font-weight="bold" fill="#000" text-anchor="end" >-6.00</text>
<text x="79.90" y="658.60" font-family="Liberation Sans" font-size="3.3" font-weight="bold" fill="#000" text-anchor="end" >0.00</text>
<line x1="90.70" y1="729.60" x2="90.70" y2="733.00" stroke="#555" stroke-width="0.9" />
<text x="90.70" y="737.52" font-family="Liberation Sans" font-size="3.4" font-weight="bold" fill="#000" text-anchor="middle" >0</text>
<line x1="116.50" y1="729.60" x2="116.50" y2="733.00" stroke="#555" stroke-width="0.9" />
<text x="116.50" y="737.52" font-family="Liberation Sans" font-size="3.4" font-weight="bold" fill="#000" text-anchor="middle" >0.1</text>
<line x1="142.00" y1="729.60" x2="142.00" y2="733.00" stroke="#555" stroke-width="0.9" />
<text x="142.00" y="737.52" font-family="Liberation Sans" font-size="3.4" font-weight="bold" fill="#000" text-anchor="middle" >0.2</text>
<line x1="167.20" y1="729.60" x2="167.20" y2="733.00" stroke="#555" stroke-width="0.9" />
<text x="167.20" y="737.52" font-family="Liberation Sans" font-size="3.4" font-weight="bold" fill="#000" text-anchor="middle" >0.3</text>
<line x1="192.40" y1="729.60" x2="192.40" y2="733.00" stroke="#555" stroke-width="0.9" />
<text x="192.40" y="737.52" font-family="Liberation Sans" font-size="3.4" font-weight="bold" fill="#000" text-anchor="middle" >0.4</text>
<line x1="217.60" y1="729.60" x2="217.60" y2="733.00" stroke="#555" stroke-width="0.9" />
<text x="217.60" y="737.52" font-family="Liberation Sans" font-size="3.4" font-weight="bold" fill="#000" text-anchor="middle" >0.5</text>
<line x1="84.50" y1="603.30" x2="224.50" y2="603.30" stroke="#7e4646" stroke-width="0.9" />
<line x1="84.50" y1="715.50" x2="224.50" y2="715.50" stroke="#7e4646" stroke-width="0.9" />
<line x1="84.50" y1="659.40" x2="224.50" y2="659.40" stroke="#444" stroke-width="1.1" />
<text x="86.50" y="601.30" font-family="Liberation Sans" font-size="3.0" font-weight="normal" fill="#333" >5.32582</text>
<text x="86.50" y="713.60" font-family="Liberation Sans" font-size="3.0" font-weight="normal" fill="#333" >-5.32582</text>
<text x="58.20" y="720.40" font-family="Liberation Serif" font-size="7.3" font-weight="bold" fill="#000" textLength="89.70" lengthAdjust="spacingAndGlyphs" transform="rotate(-90 58.20 720.40)" >Externally Studentized Residuals</text>
<text x="128.60" y="754.20" font-family="Liberation Serif" font-size="13.3" font-weight="bold" fill="#000" textLength="51.70" lengthAdjust="spacingAndGlyphs" >Predicted</text>
<rect x="100.40" y="622.00" width="3.00" height="3.00" fill="#10109a" stroke="#333" stroke-width="0.5"/>
<rect x="104.10" y="643.60" width="3.00" height="3.00" fill="#10109a" stroke="#333" stroke-width="0.5"/>
<rect x="105.40" y="643.60" width="3.00" height="3.00" fill="#10109a" stroke="#333" stroke-width="0.5"/>
<rect x="119.90" y="643.60" width="3.00" height="3.00" fill="#35c5ee" stroke="#333" stroke-width="0.5"/>
<rect x="121.20" y="657.40" width="3.00" height="3.00" fill="#35c5ee" stroke="#333" stroke-width="0.5"/>
<rect x="122.10" y="660.80" width="3.00" height="3.00" fill="#35c5ee" stroke="#333" stroke-width="0.5"/>
<rect x="154.00" y="662.40" width="3.00" height="3.00" fill="#48d028" stroke="#333" stroke-width="0.5"/>
<rect x="100.40" y="669.60" width="3.00" height="3.00" fill="#10109a" stroke="#333" stroke-width="0.5"/>
<rect x="98.90" y="672.90" width="3.00" height="3.00" fill="#10109a" stroke="#333" stroke-width="0.5"/>
<rect x="107.10" y="672.90" width="3.00" height="3.00" fill="#10109a" stroke="#333" stroke-width="0.5"/>
<rect x="215.80" y="643.60" width="3.00" height="3.00" fill="#a00000" stroke="#333" stroke-width="0.5"/>
<rect x="89.4" y="654.0" width="8.2" height="8.3" fill="#fff"/>
<path d="M90.1 660.8 H97.0" stroke="#bbb" stroke-width="0.9" fill="none"/>
<path d="M91.9 654.1 H89.45 V662.2 H97.55 V657.4" fill="none" stroke="#111" stroke-width="1.0"/>
<path d="M93.2 658.7 L96.4 655.2" fill="none" stroke="#111" stroke-width="1.2"/>
<path d="M94.0 653.9 L97.7 653.9 L97.7 657.6 Z" fill="#111"/>
<text x="86.60" y="657.80" font-family="Liberation Sans" font-size="2.6" font-weight="normal" fill="#777" >8</text>
<text x="256.90" y="600.20" font-family="Liberation Serif" font-size="12.5" font-weight="bold" fill="#000" textLength="21.50" lengthAdjust="spacingAndGlyphs" >IZD</text>
<text x="306.90" y="591.90" font-family="Liberation Sans" font-size="20" font-weight="bold" fill="#000" >e</text>
<text x="356.10" y="584.20" font-family="Liberation Serif" font-size="12" font-weight="bold" fill="#000" textLength="98.00" lengthAdjust="spacingAndGlyphs" >Predicted Vs. Actual</text>
<text x="261.80" y="619.00" font-family="Liberation Sans" font-size="5.4" font-weight="normal" fill="#000" textLength="58.70" lengthAdjust="spacingAndGlyphs" >Color points by value of</text>
<text x="261.80" y="628.00" font-family="Liberation Sans" font-size="5.4" font-weight="normal" fill="#000" textLength="8.30" lengthAdjust="spacingAndGlyphs" >IZD:</text>
<text x="261.80" y="636.40" font-family="Liberation Sans" font-size="5.4" font-weight="normal" fill="#000" textLength="7.00" lengthAdjust="spacingAndGlyphs" >0.5</text>
<defs><linearGradient id="g480" x1="0" x2="1" y1="0" y2="0"><stop offset="0" stop-color="#1400a8"/><stop offset="0.14" stop-color="#0a0098"/><stop offset="0.3" stop-color="#004a60"/><stop offset="0.44" stop-color="#10e820"/><stop offset="0.5" stop-color="#18ff20"/><stop offset="0.6" stop-color="#108c00"/><stop offset="0.74" stop-color="#5a4000"/><stop offset="0.86" stop-color="#a00000"/><stop offset="1" stop-color="#a00000"/></linearGradient></defs>
<rect x="271.10" y="630.60" width="20.10" height="7.60" fill="url(#g480)" />
<text x="293.30" y="636.40" font-family="Liberation Sans" font-size="5.4" font-weight="normal" fill="#000" textLength="7.00" lengthAdjust="spacingAndGlyphs" >5.2</text>
<line x1="332.50" y1="595.80" x2="475.80" y2="595.80" stroke="#aaa" stroke-width="1.2" />
<line x1="475.80" y1="595.80" x2="475.80" y2="739.50" stroke="#bbb" stroke-width="1.3" />
<line x1="332.50" y1="595.80" x2="332.50" y2="740.15" stroke="#6a6a6a" stroke-width="1.3" />
<line x1="331.85" y1="739.50" x2="475.80" y2="739.50" stroke="#6a6a6a" stroke-width="1.3" />
<line x1="329.20" y1="732.40" x2="332.50" y2="732.40" stroke="#555" stroke-width="0.9" />
<text x="327.80" y="731.50" font-family="Liberation Sans" font-size="3.6" font-weight="bold" fill="#000" text-anchor="end" >0</text>
<line x1="329.20" y1="710.85" x2="332.50" y2="710.85" stroke="#555" stroke-width="0.9" />
<text x="327.80" y="709.95" font-family="Liberation Sans" font-size="3.6" font-weight="bold" fill="#000" text-anchor="end" >1</text>
<line x1="329.20" y1="689.30" x2="332.50" y2="689.30" stroke="#555" stroke-width="0.9" />
<text x="327.80" y="688.40" font-family="Liberation Sans" font-size="3.6" font-weight="bold" fill="#000" text-anchor="end" >2</text>
<line x1="329.20" y1="667.75" x2="332.50" y2="667.75" stroke="#555" stroke-width="0.9" />
<text x="327.80" y="666.85" font-family="Liberation Sans" font-size="3.6" font-weight="bold" fill="#000" text-anchor="end" >3</text>
<line x1="329.20" y1="646.20" x2="332.50" y2="646.20" stroke="#555" stroke-width="0.9" />
<text x="327.80" y="645.30" font-family="Liberation Sans" font-size="3.6" font-weight="bold" fill="#000" text-anchor="end" >4</text>
<line x1="329.20" y1="624.65" x2="332.50" y2="624.65" stroke="#555" stroke-width="0.9" />
<text x="327.80" y="623.75" font-family="Liberation Sans" font-size="3.6" font-weight="bold" fill="#000" text-anchor="end" >5</text>
<line x1="329.20" y1="603.10" x2="332.50" y2="603.10" stroke="#555" stroke-width="0.9" />
<text x="327.80" y="602.20" font-family="Liberation Sans" font-size="3.6" font-weight="bold" fill="#000" text-anchor="end" >6</text>
<line x1="339.50" y1="739.50" x2="339.50" y2="742.90" stroke="#555" stroke-width="0.9" />
<text x="339.50" y="747.80" font-family="Liberation Sans" font-size="3.6" font-weight="bold" fill="#000" text-anchor="middle" >0</text>
<line x1="361.08" y1="739.50" x2="361.08" y2="742.90" stroke="#555" stroke-width="0.9" />
<text x="361.08" y="747.80" font-family="Liberation Sans" font-size="3.6" font-weight="bold" fill="#000" text-anchor="middle" >1</text>
<line x1="382.66" y1="739.50" x2="382.66" y2="742.90" stroke="#555" stroke-width="0.9" />
<text x="382.66" y="747.80" font-family="Liberation Sans" font-size="3.6" font-weight="bold" fill="#000" text-anchor="middle" >2</text>
<line x1="404.24" y1="739.50" x2="404.24" y2="742.90" stroke="#555" stroke-width="0.9" />
<text x="404.24" y="747.80" font-family="Liberation Sans" font-size="3.6" font-weight="bold" fill="#000" text-anchor="middle" >3</text>
<line x1="425.82" y1="739.50" x2="425.82" y2="742.90" stroke="#555" stroke-width="0.9" />
<text x="425.82" y="747.80" font-family="Liberation Sans" font-size="3.6" font-weight="bold" fill="#000" text-anchor="middle" >4</text>
<line x1="447.40" y1="739.50" x2="447.40" y2="742.90" stroke="#555" stroke-width="0.9" />
<text x="447.40" y="747.80" font-family="Liberation Sans" font-size="3.6" font-weight="bold" fill="#000" text-anchor="middle" >5</text>
<line x1="468.98" y1="739.50" x2="468.98" y2="742.90" stroke="#555" stroke-width="0.9" />
<text x="468.98" y="747.80" font-family="Liberation Sans" font-size="3.6" font-weight="bold" fill="#000" text-anchor="middle" >6</text>
<line x1="339.50" y1="732.40" x2="468.90" y2="603.10" stroke="#555" stroke-width="0.85" />
<text x="306.40" y="703.50" font-family="Liberation Serif" font-size="13.3" font-weight="bold" fill="#000" textLength="51.20" lengthAdjust="spacingAndGlyphs" transform="rotate(-90 306.40 703.50)" >Predicted</text>
<text x="388.90" y="769.50" font-family="Liberation Serif" font-size="13.3" font-weight="bold" fill="#000" textLength="35.80" lengthAdjust="spacingAndGlyphs" >Actual</text>
<rect x="348.90" y="720.00" width="3.00" height="3.00" fill="#10109a" stroke="#333" stroke-width="0.5"/>
<rect x="384.20" y="684.30" width="3.00" height="3.00" fill="#20c0a0" stroke="#333" stroke-width="0.5"/>
<rect x="410.00" y="658.50" width="3.00" height="3.00" fill="#48d028" stroke="#333" stroke-width="0.5"/>
<rect x="411.50" y="657.20" width="3.00" height="3.00" fill="#48d028" stroke="#333" stroke-width="0.5"/>
<rect x="418.90" y="649.90" width="3.00" height="3.00" fill="#c0e000" stroke="#333" stroke-width="0.5"/>
<rect x="425.00" y="643.70" width="3.00" height="3.00" fill="#e8e000" stroke="#333" stroke-width="0.5"/>
<rect x="430.00" y="638.80" width="3.00" height="3.00" fill="#e0b000" stroke="#333" stroke-width="0.5"/>
<rect x="434.10" y="634.60" width="3.00" height="3.00" fill="#e08000" stroke="#333" stroke-width="0.5"/>
<rect x="434.60" y="623.50" width="3.00" height="3.00" fill="#e08000" stroke="#333" stroke-width="0.5"/>
<rect x="450.20" y="623.90" width="3.00" height="3.00" fill="#a00000" stroke="#333" stroke-width="0.5"/>
<text x="382.60" y="686.50" font-family="Liberation Sans" font-size="2.6" font-weight="normal" fill="#444" text-anchor="middle" >1</text>
<text x="409.00" y="659.50" font-family="Liberation Sans" font-size="2.6" font-weight="normal" fill="#444" text-anchor="middle" >1</text>
<text x="448.00" y="625.20" font-family="Liberation Sans" font-size="2.6" font-weight="normal" fill="#444" text-anchor="middle" >1</text>
<text x="519.80" y="583.60" font-family="Liberation Sans" font-size="20" font-weight="bold" fill="#000" >f</text>
<text x="562.10" y="585.30" font-family="Liberation Serif" font-size="12" font-weight="bold" fill="#000" textLength="98.30" lengthAdjust="spacingAndGlyphs" >Predicted Vs. Actual</text>
<text x="488.30" y="598.60" font-family="Liberation Serif" font-size="12.5" font-weight="bold" fill="#000" textLength="24.30" lengthAdjust="spacingAndGlyphs" >MIC</text>
<text x="495.00" y="621.60" font-family="Liberation Sans" font-size="5.2" font-weight="normal" fill="#000" textLength="24.50" lengthAdjust="spacingAndGlyphs" >y value of</text>
<defs><linearGradient id="g535" x1="0" x2="1" y1="0" y2="0"><stop offset="0" stop-color="#20a020"/><stop offset="0.5" stop-color="#604000"/><stop offset="1" stop-color="#a00000"/></linearGradient></defs>
<rect x="494.70" y="633.00" width="8.60" height="7.80" fill="url(#g535)" />
<text x="504.40" y="639.00" font-family="Liberation Sans" font-size="5.2" font-weight="normal" fill="#000" textLength="7.00" lengthAdjust="spacingAndGlyphs" >0.5</text>
<line x1="531.90" y1="599.40" x2="672.40" y2="599.40" stroke="#808080" stroke-width="1.2" />
<line x1="672.40" y1="599.40" x2="672.40" y2="739.80" stroke="#808080" stroke-width="1.3" />
<line x1="531.90" y1="599.40" x2="531.90" y2="740.45" stroke="#6a6a6a" stroke-width="1.3" />
<line x1="531.25" y1="739.80" x2="672.40" y2="739.80" stroke="#6a6a6a" stroke-width="1.3" />
<line x1="576.60" y1="596.90" x2="626.60" y2="596.90" stroke="#bbb" stroke-width="0.8" stroke-dasharray="1.5 1"/>
<line x1="528.60" y1="732.80" x2="531.90" y2="732.80" stroke="#555" stroke-width="0.9" />
<text x="527.20" y="731.80" font-family="Liberation Sans" font-size="3.6" font-weight="bold" fill="#000" text-anchor="end" >0</text>
<line x1="528.60" y1="707.56" x2="531.90" y2="707.56" stroke="#555" stroke-width="0.9" />
<text x="527.20" y="706.56" font-family="Liberation Sans" font-size="3.6" font-weight="bold" fill="#000" text-anchor="end" >0.1</text>
<line x1="528.60" y1="682.32" x2="531.90" y2="682.32" stroke="#555" stroke-width="0.9" />
<text x="527.20" y="681.32" font-family="Liberation Sans" font-size="3.6" font-weight="bold" fill="#000" text-anchor="end" >0.2</text>
<line x1="528.60" y1="657.08" x2="531.90" y2="657.08" stroke="#555" stroke-width="0.9" />
<text x="527.20" y="656.08" font-family="Liberation Sans" font-size="3.6" font-weight="bold" fill="#000" text-anchor="end" >0.3</text>
<line x1="528.60" y1="631.84" x2="531.90" y2="631.84" stroke="#555" stroke-width="0.9" />
<text x="527.20" y="630.84" font-family="Liberation Sans" font-size="3.6" font-weight="bold" fill="#000" text-anchor="end" >0.4</text>
<line x1="528.60" y1="606.60" x2="531.90" y2="606.60" stroke="#555" stroke-width="0.9" />
<text x="527.20" y="605.60" font-family="Liberation Sans" font-size="3.6" font-weight="bold" fill="#000" text-anchor="end" >0.5</text>
<line x1="538.80" y1="739.80" x2="538.80" y2="743.20" stroke="#555" stroke-width="0.9" />
<text x="538.80" y="748.50" font-family="Liberation Sans" font-size="3.6" font-weight="bold" fill="#000" text-anchor="middle" >0</text>
<line x1="564.10" y1="739.80" x2="564.10" y2="743.20" stroke="#555" stroke-width="0.9" />
<text x="564.10" y="748.50" font-family="Liberation Sans" font-size="3.6" font-weight="bold" fill="#000" text-anchor="middle" >0.1</text>
<line x1="589.40" y1="739.80" x2="589.40" y2="743.20" stroke="#555" stroke-width="0.9" />
<text x="589.40" y="748.50" font-family="Liberation Sans" font-size="3.6" font-weight="bold" fill="#000" text-anchor="middle" >0.2</text>
<line x1="614.70" y1="739.80" x2="614.70" y2="743.20" stroke="#555" stroke-width="0.9" />
<text x="614.70" y="748.50" font-family="Liberation Sans" font-size="3.6" font-weight="bold" fill="#000" text-anchor="middle" >0.3</text>
<line x1="640.00" y1="739.80" x2="640.00" y2="743.20" stroke="#555" stroke-width="0.9" />
<text x="640.00" y="748.50" font-family="Liberation Sans" font-size="3.6" font-weight="bold" fill="#000" text-anchor="middle" >0.4</text>
<line x1="665.30" y1="739.80" x2="665.30" y2="743.20" stroke="#555" stroke-width="0.9" />
<text x="665.30" y="748.50" font-family="Liberation Sans" font-size="3.6" font-weight="bold" fill="#000" text-anchor="middle" >0.5</text>
<line x1="538.80" y1="732.80" x2="665.30" y2="606.80" stroke="#555" stroke-width="0.85" />
<text x="506.40" y="710.40" font-family="Liberation Serif" font-size="13.3" font-weight="bold" fill="#000" textLength="50.00" lengthAdjust="spacingAndGlyphs" transform="rotate(-90 506.40 710.40)" >Predicted</text>
<text x="586.60" y="769.00" font-family="Liberation Serif" font-size="13.3" font-weight="bold" fill="#000" textLength="35.80" lengthAdjust="spacingAndGlyphs" >Actual</text>
<rect x="663.80" y="605.60" width="3.00" height="3.00" fill="#a00000" stroke="#333" stroke-width="0.5"/>
<rect x="600.40" y="667.30" width="3.00" height="3.00" fill="#48d028" stroke="#333" stroke-width="0.5"/>
<rect x="569.00" y="699.00" width="3.00" height="3.00" fill="#35c5ee" stroke="#333" stroke-width="0.5"/>
<rect x="569.00" y="701.70" width="3.00" height="3.00" fill="#35c5ee" stroke="#333" stroke-width="0.5"/>
<rect x="553.10" y="713.50" width="3.00" height="3.00" fill="#10109a" stroke="#333" stroke-width="0.5"/>
<rect x="553.10" y="716.10" width="3.00" height="3.00" fill="#10109a" stroke="#333" stroke-width="0.5"/>
<rect x="553.10" y="721.00" width="3.00" height="3.00" fill="#10109a" stroke="#333" stroke-width="0.5"/>
<rect x="545.40" y="721.70" width="3.00" height="3.00" fill="#10109a" stroke="#333" stroke-width="0.5"/>
</svg>
</body></html>
